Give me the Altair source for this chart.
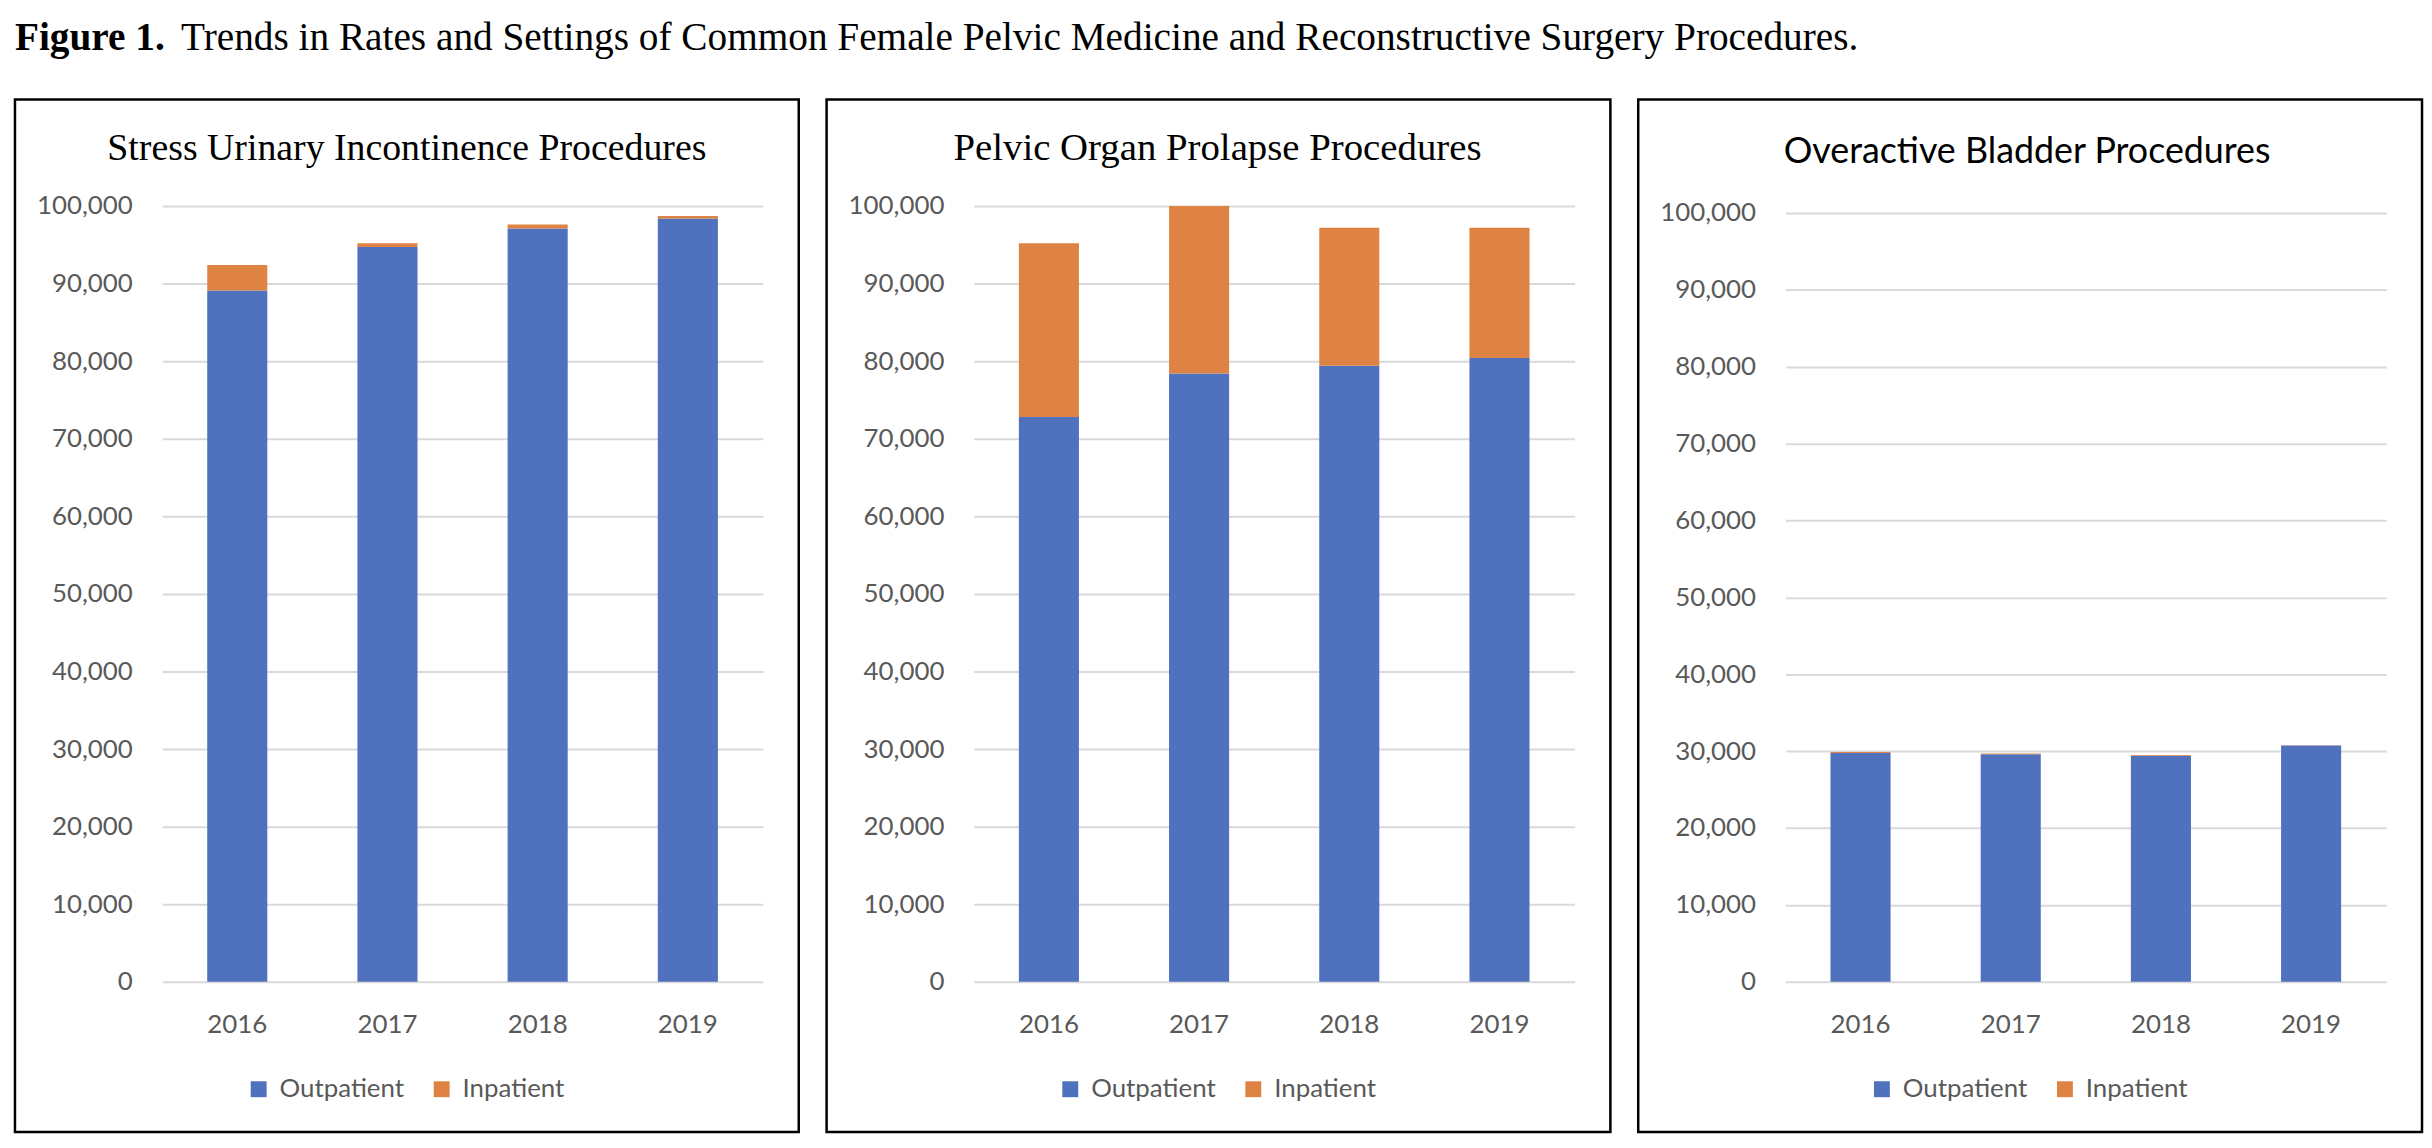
import altair as alt
import pandas as pd

# ---- data ----
years = ["2016", "2017", "2018", "2019"]
settings = ["Outpatient", "Inpatient"]
sui_outpatient = [89100, 94700, 97100, 98400]
sui_inpatient = [3300, 500, 500, 300]
pop_outpatient = [72800, 78400, 79400, 80400]
pop_inpatient = [22400, 21600, 17800, 16800]
oab_outpatient = [29750, 29600, 29400, 30750]
oab_inpatient = [130, 100, 100, 30]
panel_titles = [
    "Stress Urinary Incontinence Procedures",
    "Pelvic Organ Prolapse Procedures",
    "Overactive Bladder Procedures",
]
y_ticks = [0, 10000, 20000, 30000, 40000, 50000, 60000, 70000, 80000, 90000, 100000]
fig_label = "Figure 1."
fig_title = ("Trends in Rates and Settings of Common Female Pelvic Medicine "
             "and Reconstructive Surgery Procedures.")
colors = ["#4F71BE", "#DF8344"]

SANS = "Lato"
SERIF = "Liberation Serif"
GRAY = "#595959"
H = 780


def panel(outp, inp, title, title_font, title_size, title_x, title_y, y_top):
    rows = []
    for i, yr in enumerate(years):
        rows.append({"year": yr, "setting": settings[0], "value": outp[i], "ord": 0})
        rows.append({"year": yr, "setting": settings[1], "value": inp[i], "ord": 1})
    df = pd.DataFrame(rows)

    bars = alt.Chart(df).mark_bar().encode(
        x=alt.X("year:N", sort=years,
                scale=alt.Scale(paddingInner=0.6, paddingOuter=0.3),
                axis=alt.Axis(title=None, labelAngle=0, ticks=False, domain=False,
                              labelPadding=30, labelFont=SANS, labelFontSize=26,
                              labelColor=GRAY)),
        y=alt.Y("value:Q", stack="zero",
                scale=alt.Scale(domain=[0, 100000], nice=False, range=[H, y_top]),
                axis=alt.Axis(title=None, values=y_ticks, format=",d", ticks=False,
                              domain=False, labelPadding=30, labelFont=SANS,
                              labelFontSize=26, labelColor=GRAY,
                              gridColor="#D9D9D9", gridWidth=2)),
        color=alt.Color("setting:N",
                        scale=alt.Scale(domain=settings, range=colors),
                        legend=alt.Legend(title=None, orient="none", legendX=84,
                                          legendY=875, direction="horizontal",
                                          symbolType="square", symbolSize=256,
                                          symbolStrokeWidth=0, labelFont=SANS,
                                          labelFontSize=26, labelColor=GRAY,
                                          labelOffset=8, columnPadding=24,
                                          padding=0)),
        order=alt.Order("ord:Q"),
    )

    frame = alt.Chart(pd.DataFrame({"f": [0]})).mark_rect(
        filled=False, stroke="black", strokeWidth=2.5
    ).encode(x=alt.value(-148), x2=alt.value(640),
             y=alt.value(-107), y2=alt.value(931))

    ttl = alt.Chart(pd.DataFrame({"t": [title]})).mark_text(
        font=title_font, fontSize=title_size, color="black",
        align="center", baseline="alphabetic"
    ).encode(text="t:N", x=alt.value(title_x), y=alt.value(title_y))

    return alt.layer(bars, frame, ttl).properties(width=604, height=H)


p1 = panel(sui_outpatient, sui_inpatient, panel_titles[0], SERIF, 38, 246, -46, 0)
p2 = panel(pop_outpatient, pop_inpatient, panel_titles[1], SERIF, 39, 245, -46, 0)
p3 = panel(oab_outpatient, oab_inpatient, panel_titles[2], SANS, 36, 243, -43, 7)

head_bold = alt.Chart(pd.DataFrame({"t": [fig_label]})).mark_text(
    font=SERIF, fontSize=39.5, fontWeight="bold", color="black",
    align="left", baseline="alphabetic"
).encode(text="t:N", x=alt.value(-148), y=alt.value(34))

head_rest = alt.Chart(pd.DataFrame({"t": [fig_title]})).mark_text(
    font=SERIF, fontSize=39.5, color="black",
    align="left", baseline="alphabetic"
).encode(text="t:N", x=alt.value(19), y=alt.value(34))

header = alt.layer(head_bold, head_rest).properties(width=1700, height=50)

row = alt.hconcat(p1, p2, p3, spacing=24).resolve_scale(
    color="independent").resolve_legend(color="independent")

chart = alt.vconcat(header, row, spacing=32).properties(
    padding={"left": 5, "top": 5, "right": 0, "bottom": 5},
    background="white",
).configure_view(stroke=None)

chart.save("out.html", embed_options={"renderer": "svg", "actions": False})
